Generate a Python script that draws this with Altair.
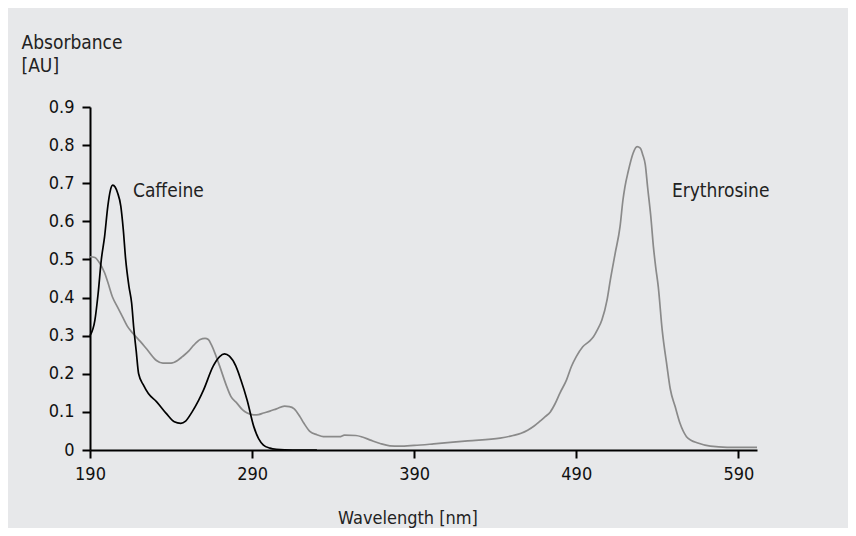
import altair as alt
import pandas as pd

# ---- data ----
caf_wl = [190, 193, 195, 197, 199, 201, 202.5, 204, 205.5, 207, 209, 210.5, 212, 214,
          215.7, 217, 218.5, 220, 223, 226, 231, 237, 242, 246, 249, 253, 257, 260, 266,
          270, 273, 276, 280, 283, 287, 291, 294, 297, 301, 305, 315, 330]
caf_abs = [0.30, 0.34, 0.41, 0.50, 0.56, 0.64, 0.68, 0.695, 0.69, 0.675, 0.64, 0.58, 0.50,
           0.43, 0.385, 0.32, 0.26, 0.20, 0.17, 0.148, 0.127, 0.096, 0.074, 0.07, 0.076,
           0.10, 0.13, 0.157, 0.22, 0.245, 0.252, 0.246, 0.22, 0.185, 0.13, 0.062, 0.03,
           0.013, 0.005, 0.002, 0.0, 0.0]

ery_wl = [190, 193, 196, 199, 201, 204, 207, 210, 213, 216.7, 221, 225, 231, 235, 240, 244,
          247, 251, 254, 258, 261, 263, 265, 267, 270, 274.5, 277, 280.6, 284, 287, 291, 294,
          297, 301, 305, 310, 313, 316, 319.6, 322, 325.8, 330, 334, 344, 347, 354, 358, 363,
          369, 375, 381, 390, 402, 423, 443, 451, 456, 460, 464, 468, 471, 474, 477, 480, 484,
          487, 490, 494, 498, 500.6, 503, 505.8, 509, 511, 514, 517, 518.8, 520, 522, 525,
          527.5, 529.5, 531, 532.6, 534, 536, 537.6, 539, 540.6, 543, 546, 548, 551, 554, 558,
          561, 564.5, 572.7, 583, 601.5]
ery_abs = [0.507, 0.505, 0.49, 0.465, 0.44, 0.40, 0.375, 0.35, 0.325, 0.305, 0.285, 0.265,
           0.235, 0.228, 0.228, 0.235, 0.245, 0.26, 0.275, 0.29, 0.293, 0.29, 0.275, 0.255,
           0.22, 0.165, 0.14, 0.123, 0.106, 0.097, 0.092, 0.093, 0.097, 0.102, 0.108, 0.115,
           0.114, 0.108, 0.087, 0.07, 0.048, 0.04, 0.035, 0.035, 0.039, 0.038, 0.034, 0.026,
           0.017, 0.011, 0.01, 0.012, 0.016, 0.024, 0.031, 0.038, 0.044, 0.052, 0.063, 0.077,
           0.088, 0.10, 0.122, 0.15, 0.184, 0.219, 0.245, 0.271, 0.285, 0.297, 0.315, 0.341,
           0.394, 0.446, 0.516, 0.586, 0.656, 0.69, 0.73, 0.778, 0.796, 0.792, 0.775, 0.748,
           0.69, 0.612, 0.533, 0.48, 0.428, 0.315, 0.219, 0.16, 0.114, 0.07, 0.035, 0.025,
           0.019, 0.01, 0.007, 0.007]

series_names = ["Caffeine", "Erythrosine"]
series_colors = ["#000000", "#8a8a8a"]
x_ticks = [190, 290, 390, 490, 590]
y_ticks = [0, 0.1, 0.2, 0.3, 0.4, 0.5, 0.6, 0.7, 0.8, 0.9]
label_wl = [216.5, 549]
label_abs = [0.664, 0.664]

FONT = "DejaVu Sans Condensed"

df = pd.concat([
    pd.DataFrame({"wl": ery_wl, "abs": ery_abs, "series": "Erythrosine"}),
    pd.DataFrame({"wl": caf_wl, "abs": caf_abs, "series": "Caffeine"}),
])
lab = pd.DataFrame({"wl": label_wl, "abs": label_abs, "text": series_names})

xscale = alt.Scale(domain=[190, 601.5], nice=False, zero=False)
yscale = alt.Scale(domain=[0, 0.9], nice=False, zero=False)

xaxis = alt.Axis(values=x_ticks, format="d", title="Wavelength [nm]",
                 titleX=317.5, titleY=73, titleAlign="center",
                 titleBaseline="alphabetic", labelPadding=7,
                 labelBaseline="top", labelOverlap=False, labelFlush=False)
yaxis = alt.Axis(values=y_ticks, format="~g", title=["Absorbance", "[AU]"],
                 titleAngle=0, titleAlign="left", titleBaseline="alphabetic",
                 titleX=-69, titleY=-59, titleLineHeight=23, labelPadding=8,
                 labelOverlap=False, labelFlush=False, titleFontSize=19)

lines = alt.Chart(df).mark_line(strokeWidth=1.7, interpolate="monotone").encode(
    x=alt.X("wl:Q", scale=xscale, axis=xaxis),
    y=alt.Y("abs:Q", scale=yscale, axis=yaxis),
    color=alt.Color("series:N", scale=alt.Scale(domain=series_names, range=series_colors),
                    legend=None),
    detail="series:N",
)

texts = alt.Chart(lab).mark_text(align="left", baseline="alphabetic", fontSize=19,
                                 font=FONT, color="#222222").encode(
    x=alt.X("wl:Q", scale=xscale, axis=xaxis),
    y=alt.Y("abs:Q", scale=yscale, axis=yaxis),
    text="text:N",
)

chart = alt.layer(lines, texts).properties(
    width=667, height=343,
    autosize=alt.AutoSizeParams(type="none"),
    padding={"left": 82, "top": 99, "right": 91, "bottom": 78},
    background="#e7e8ea",
).configure_view(stroke=None).configure_axis(
    grid=False, domainColor="#000000", domainWidth=2, tickColor="#000000",
    tickWidth=2, tickSize=8, labelFont=FONT, labelFontSize=18, labelColor="#111111",
    titleFont=FONT, titleFontSize=18, titleColor="#222222", titleFontWeight="normal",
)

chart.save("out.html", embed_options={"renderer": "svg", "actions": False})
